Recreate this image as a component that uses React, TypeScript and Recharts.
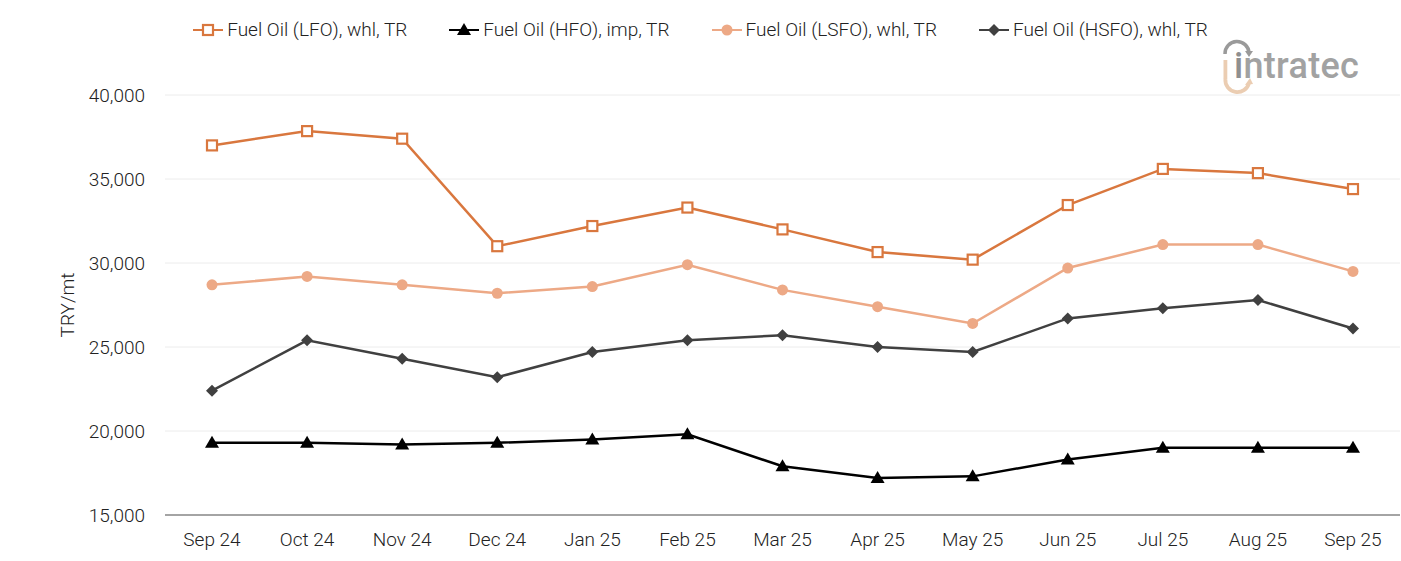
import { LineChart, Line, XAxis, YAxis, CartesianGrid } from "recharts";

const months = ["Sep 24", "Oct 24", "Nov 24", "Dec 24", "Jan 25", "Feb 25", "Mar 25", "Apr 25", "May 25", "Jun 25", "Jul 25", "Aug 25", "Sep 25"];
const lfo = [37000, 37850, 37400, 31000, 32200, 33300, 32000, 30650, 30200, 33450, 35600, 35350, 34400];
const hfo = [19300, 19300, 19200, 19300, 19500, 19800, 17900, 17200, 17300, 18300, 19000, 19000, 19000];
const lsfo = [28700, 29200, 28700, 28200, 28600, 29900, 28400, 27400, 26400, 29700, 31100, 31100, 29500];
const hsfo = [22400, 25400, 24300, 23200, 24700, 25400, 25700, 25000, 24700, 26700, 27300, 27800, 26100];
const yTicks = [15000, 20000, 25000, 30000, 35000, 40000];

const names = ["Fuel Oil (LFO), whl, TR", "Fuel Oil (HFO), imp, TR", "Fuel Oil (LSFO), whl, TR", "Fuel Oil (HSFO), whl, TR"];
const colors = ["#D9773E", "#000000", "#EDA986", "#404040"];
const shapes = ["square", "triangle", "circle", "diamond"];
const keys = ["lfo", "hfo", "lsfo", "hsfo"];

const data = months.map((m, i) => ({ m, lfo: lfo[i], hfo: hfo[i], lsfo: lsfo[i], hsfo: hsfo[i] }));

function Marker({ shape, color, cx, cy }: { shape: string; color: string; cx: number; cy: number }) {
  if (shape === "square")
    return <rect x={cx - 5} y={cy - 5} width={10} height={10} fill="#fff" stroke={color} strokeWidth={2.2} />;
  if (shape === "triangle")
    return <polygon points={`${cx},${cy - 7} ${cx + 7},${cy + 5} ${cx - 7},${cy + 5}`} fill={color} />;
  if (shape === "circle") return <circle cx={cx} cy={cy} r={5.5} fill={color} />;
  return <polygon points={`${cx},${cy - 6} ${cx + 6},${cy} ${cx},${cy + 6} ${cx - 6},${cy}`} fill={color} />;
}

const dotFor = (idx: number) => (p: any) =>
  <Marker key={`d${idx}-${p.index}`} shape={shapes[idx]} color={colors[idx]} cx={p.cx} cy={p.cy} />;

const font = "Roboto, sans-serif";

export default function App() {
  return (
    <div style={{ position: "absolute", left: 0, top: 0, width: 1401, height: 561, background: "#fff", fontFamily: font }}>
      <div style={{ position: "absolute", top: 18, left: 0, width: 1401, display: "flex", justifyContent: "center", gap: 42, fontSize: 19, fontWeight: 300, color: "#222" }}>
        {names.map((n, i) => (
          <div key={n} style={{ display: "flex", alignItems: "center", gap: 4 }}>
            <svg width={30} height={22}>
              <line x1={0} y1={11} x2={30} y2={11} stroke={colors[i]} strokeWidth={2} />
              <Marker shape={shapes[i]} color={colors[i]} cx={15} cy={11} />
            </svg>
            <span>{n}</span>
          </div>
        ))}
      </div>
      <div style={{ position: "absolute", left: 1218, top: 38, width: 160, height: 60 }}>
        <svg width={160} height={60}>
          <path d="M7 16 A 12 12 0 0 1 31 15" fill="none" stroke="#9a9a9a" strokeWidth={3.5} />
          <polygon points="27,13 35,13 31,19" fill="#9a9a9a" />
          <rect x={5.5} y={22} width={3.8} height={19} fill="#ebcdb2" />
          <path d="M7.4 41 A 12 12 0 0 0 31 45" fill="none" stroke="#ebcdb2" strokeWidth={3.8} />
          <polygon points="27,47 35,46 32,40" fill="#ebcdb2" />
          <text x={16} y={40} fontSize={36} fill="#a2a2a2" fontFamily={font} fontWeight={500} letterSpacing={0.3}>
            <tspan fill="#8f8f8f">i</tspan>ntratec
          </text>
        </svg>
      </div>
      <LineChart width={1401} height={561} data={data} margin={{ top: 95, right: 1, bottom: 0, left: 0 }}>
        <CartesianGrid vertical={false} stroke="#ececec" />
        <XAxis
          dataKey="m"
          height={46}
          padding={{ left: 47, right: 47 }}
          tickLine={false}
          tickSize={0}
          tickMargin={18}
          axisLine={{ stroke: "#888", strokeWidth: 1.5 }}
          tick={{ fontSize: 19, fill: "#222", fontWeight: 300 }}
          interval={0}
        />
        <YAxis
          width={165}
          domain={[15000, 40000]}
          ticks={yTicks}
          axisLine={false}
          tickLine={false}
          tickSize={0}
          tickMargin={20}
          tick={{ fontSize: 19, fill: "#222", fontWeight: 300 }}
          tickFormatter={(v: number) => v.toLocaleString("en-US")}
          label={{ value: "TRY/mt", angle: -90, position: "center", dx: -15, fontSize: 19, fill: "#222", fontWeight: 300 }}
        />
        {keys.map((k, i) => (
          <Line
            key={k}
            dataKey={k}
            name={names[i]}
            stroke={colors[i]}
            strokeWidth={2.5}
            dot={dotFor(i)}
            activeDot={false}
            isAnimationActive={false}
          />
        ))}
      </LineChart>
    </div>
  );
}
